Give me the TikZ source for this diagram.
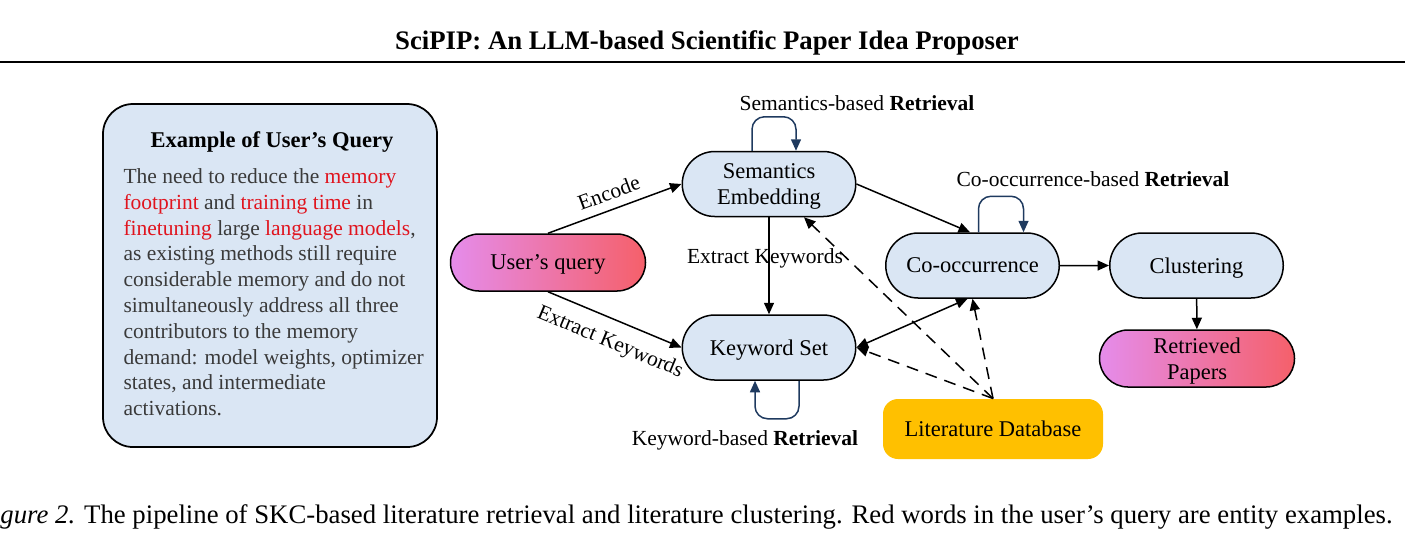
\documentclass[tikz,border=0pt]{standalone}
\usepackage{fontspec}
\setmainfont{Liberation Serif}
\usepackage{xcolor}
\usetikzlibrary{
    arrows.meta,
    shapes.misc
}
\definecolor{nodeblue}{HTML}{DAE6F4}
\definecolor{loopnavy}{HTML}{1F3A5F}
\definecolor{dbyellow}{HTML}{FFC000}
\definecolor{querygray}{HTML}{3A3A3A}
\definecolor{entityred}{HTML}{E0141E}
\definecolor{gradL}{HTML}{E58CEB}
\definecolor{gradR}{HTML}{F5606A}
\newcommand{\entity}[1]{\textcolor{entityred}{#1}}
\newcommand{\nodefont}{\fontsize{9}{10.4}\selectfont}
\newcommand{\tagfont}{\fontsize{8.6}{10}\selectfont}
\tikzset{
    stage/.style={
        rounded rectangle,
        draw=black,
        line width=0.6pt,
        fill=nodeblue,
        align=center,
        minimum width=71.4pt,
        minimum height=26pt,
        inner sep=1pt,
        text depth=0pt,
        font=\nodefont
    },
    ioblock/.style={
        rounded rectangle,
        draw=black,
        line width=0.6pt,
        left color=gradL,
        right color=gradR,
        align=center,
        minimum width=80pt,
        minimum height=22.8pt,
        inner sep=1pt,
        text depth=0pt,
        font=\nodefont
    },
    database/.style={
        rectangle,
        rounded corners=6pt,
        fill=dbyellow,
        minimum width=88pt,
        minimum height=24pt,
        text depth=0pt,
        font=\nodefont
    },
    querybox/.style={
        rectangle,
        rounded corners=12pt,
        draw=black,
        line width=0.7pt,
        fill=nodeblue,
        minimum width=133.6pt,
        minimum height=137.2pt
    },
    tag/.style={
        font=\tagfont,
        inner sep=1pt
    },
    arrow/.style={
        -{Triangle[length=4.6pt,width=4pt]},
        line width=0.6pt
    },
    dasharrow/.style={
        arrow,
        dash pattern=on 4.8pt off 3.2pt
    },
    looparrow/.style={
        arrow,
        draw=loopnavy,
        rounded corners=5pt
    }
}

\begin{document}
\begin{tikzpicture}[x=0.4pt, y=-0.4pt]
\useasboundingbox (0,0) rectangle (1405,555);

% header and caption
\node[font=\fontsize{10.7}{13}\selectfont\bfseries] (header) at (707,43) {SciPIP: An LLM-based Scientific Paper Idea Proposer};
\coordinate (ruleL) at (0,61.5);
\coordinate (ruleR) at (1405,61.5);
\draw[line width=0.8pt] (ruleL) -- (ruleR);
\node[anchor=west, inner sep=0pt, font=\fontsize{10.7}{13}\selectfont] (caption) at (0,517)
    {\textit{gure 2.} The pipeline of SKC-based literature retrieval and literature clustering. Red words in the user's query are entity examples.};

% example query
\node[querybox] (qbox) at (270,275.5) {};
\node[font=\fontsize{9}{11}\selectfont\bfseries] (qtitle) at (272,142) {Example of User's Query};
\node[anchor=north west, inner sep=0pt, align=left, text=querygray,
      font=\fontsize{8.6}{10.32}\selectfont] (qtext) at (123,168)
    {The need to reduce the \entity{memory}\\
     \entity{footprint} and \entity{training time} in\\
     \entity{finetuning} large \entity{language models},\\
     as existing methods still require\\
     considerable memory and do not\\
     simultaneously address all three\\
     contributors to the memory\\
     demand: model weights, optimizer\\
     states, and intermediate\\
     activations.};

% pipeline
\node[ioblock] (query) at (548,262.5) {User's query};
\node[stage] (sem) at (769,184) {Semantics\\Embedding};
\node[stage] (kw) at (769,347.5) {Keyword Set};
\node[stage] (cooc) at (972.5,265.5) {Co-occurrence};
\node[stage] (clust) at (1196.5,265.5) {Clustering};
\node[ioblock] (papers) at (1197,358.5) {Retrieved\\Papers};
\node[database] (db) at (993,429) {Literature Database};

\draw[arrow] (query.north) -- node[tag, above=2.5pt, sloped] {Encode} (sem.west);
\draw[arrow] (query.south) -- node[tag, pos=0.53, below=4pt, sloped] {Extract Keywords} (kw.west);
\draw[arrow] (sem.south) -- node[tag, pos=0.42, xshift=-1.6pt] {Extract Keywords} (kw.north);
\draw[arrow] (sem.east) -- ([xshift=-1pt]cooc.north);
\draw[arrow, {Triangle[length=4.6pt,width=4pt]}-{Triangle[length=4.6pt,width=4pt]}] (kw.east) -- ([xshift=-2pt]cooc.south);
\draw[arrow] (cooc) -- (clust);
\draw[arrow] (clust) -- (papers);

% literature database links
\draw[dasharrow] (db.north) -- ([xshift=14pt]sem.south);
\draw[dasharrow] (db.north) -- (kw.east);
\draw[dasharrow] (db.north) -- (cooc.south);

% retrieval loops
\draw[looparrow] ([xshift=-6.8pt]sem.north) -- ++(0,-34) -| ([xshift=10.8pt]sem.north);
\draw[looparrow] ([xshift=2.4pt]cooc.north) -- ++(0,-36) -| ([xshift=20.4pt]cooc.north);
\draw[looparrow] ([xshift=12pt]kw.south) -- ++(0,38) -| ([xshift=-5.6pt]kw.south);
\node[tag] (semret) at (857,103) {Semantics-based \textbf{Retrieval}};
\node[tag] (coocret) at (1093,179) {Co-occurrence-based \textbf{Retrieval}};
\node[tag] (kwret) at (745,440) {Keyword-based \textbf{Retrieval}};
\end{tikzpicture}
\end{document}
